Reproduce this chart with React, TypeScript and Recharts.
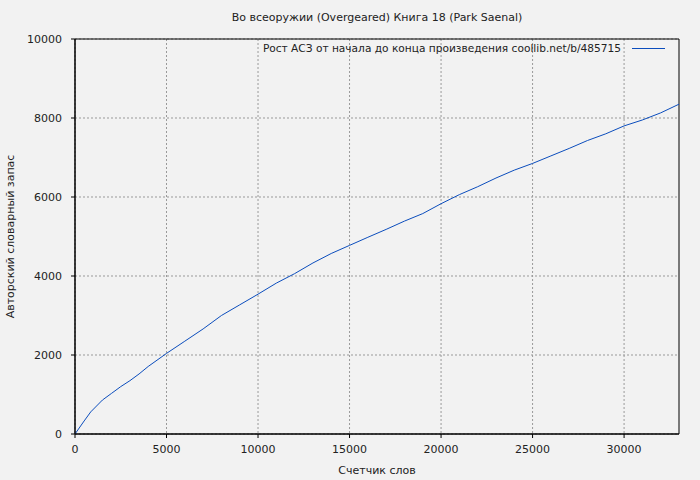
import React from "react";
import {
  LineChart,
  Line,
  XAxis,
  YAxis,
  CartesianGrid,
  ReferenceArea,
} from "recharts";

// Word counter (x) vs author's vocabulary (y)
const WORDS = [
  0, 500, 860, 1500, 2000, 2500, 3000, 3500, 4000, 5000, 6000, 7000, 8000,
  9000, 10000, 11000, 12000, 13000, 14000, 15000, 16000, 17000, 18000, 19000,
  20000, 21000, 22000, 23000, 24000, 25000, 26000, 27000, 28000, 29000, 30000,
  31000, 32000, 33000,
];
const VOCAB = [
  0, 330, 560, 860, 1030, 1200, 1350, 1520, 1710, 2040, 2350, 2660, 3000,
  3270, 3540, 3820, 4060, 4330, 4570, 4775, 4980, 5180, 5390, 5580, 5830,
  6060, 6260, 6480, 6680, 6850, 7040, 7230, 7430, 7600, 7800, 7950, 8130,
  8350,
];
const X_TICKS = [0, 5000, 10000, 15000, 20000, 25000, 30000];
const Y_TICKS = [0, 2000, 4000, 6000, 8000, 10000];

const TITLE = "Во всеоружии (Overgeared) Книга 18 (Park Saenal)";
const LEGEND_TEXT = "Рост АСЗ от начала до конца произведения coollib.net/b/485715";

const data = WORDS.map((w, i) => ({ words: w, vocab: VOCAB[i] }));

const FONT = "'DejaVu Sans', Verdana, sans-serif";
const TEXT = "#222";
const LINE = "#0b4dbd";

export default function App() {
  return (
    <div
      style={{
        position: "absolute",
        left: 0,
        top: 0,
        width: 700,
        height: 480,
        background: "#f2f2f2",
        fontFamily: FONT,
      }}
    >
      <div
        style={{
          position: "absolute",
          left: 75,
          width: 604,
          top: 11,
          textAlign: "center",
          fontSize: 11,
          color: TEXT,
        }}
      >
        {TITLE}
      </div>
      <LineChart
        width={700}
        height={480}
        data={data}
        margin={{ top: 39, right: 21, bottom: 0, left: 0 }}
      >
        <CartesianGrid
          stroke="#999"
          strokeDasharray="2 2"
          horizontalValues={Y_TICKS}
          verticalValues={X_TICKS}
        />
        <XAxis
          dataKey="words"
          type="number"
          domain={[0, 33000]}
          ticks={X_TICKS}
          allowDataOverflow
          height={46}
          stroke="#000"
          tickSize={4}
          tickMargin={7}
          tick={{ fill: TEXT, fontSize: 11, fontFamily: FONT }}
          label={{
            value: "Счетчик слов",
            position: "insideBottom",
            offset: 6,
            fill: TEXT,
            fontSize: 11,
            fontFamily: FONT,
          }}
        />
        <YAxis
          type="number"
          domain={[0, 10000]}
          ticks={Y_TICKS}
          width={75}
          stroke="#000"
          tickSize={4}
          tickMargin={9}
          tick={{ fill: TEXT, fontSize: 11, fontFamily: FONT }}
          label={{
            value: "Авторский словарный запас",
            angle: -90,
            position: "insideLeft",
            offset: 10,
            style: { textAnchor: "middle" },
            fill: TEXT,
            fontSize: 11,
            fontFamily: FONT,
          }}
        />
        <ReferenceArea
          x1={0}
          x2={33000}
          y1={0}
          y2={10000}
          fill="none"
          stroke="#000"
          strokeOpacity={1}
          fillOpacity={0}
        />
        <Line
          type="linear"
          dataKey="vocab"
          stroke={LINE}
          strokeWidth={1}
          dot={false}
          isAnimationActive={false}
        />
      </LineChart>
      <div
        style={{
          position: "absolute",
          right: 35,
          top: 42,
          display: "flex",
          alignItems: "center",
          fontSize: 10.6,
          color: TEXT,
          whiteSpace: "pre",
        }}
      >
        <span>{LEGEND_TEXT}</span>
        <span
          style={{
            display: "inline-block",
            width: 33,
            height: 1,
            background: LINE,
            marginLeft: 11,
          }}
        />
      </div>
    </div>
  );
}
